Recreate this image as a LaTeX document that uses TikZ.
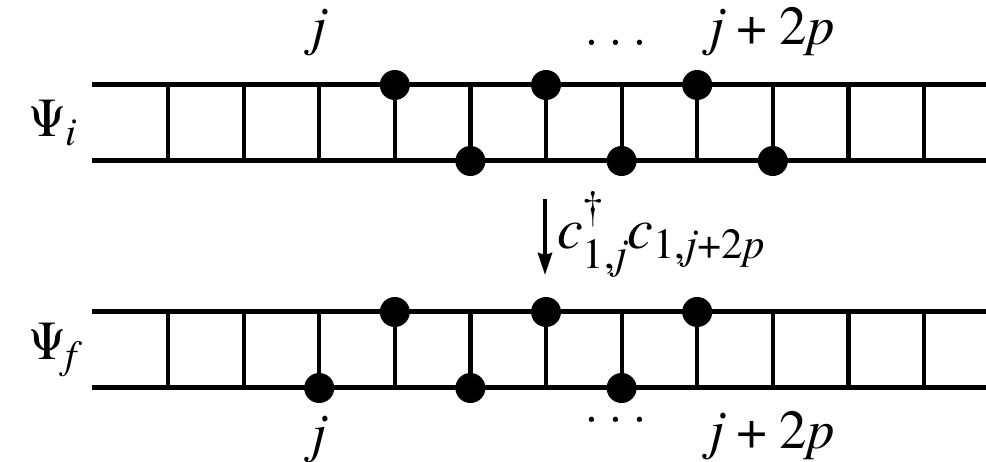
\RequirePackage{fix-cm}
\documentclass[tikz,border=0pt]{standalone}
\usepackage{amsmath}
\usepackage{fontspec}
\setmainfont{texgyretermes}[Extension=.otf, UprightFont=*-regular, ItalicFont=*-italic, BoldFont=*-bold, BoldItalicFont=*-bolditalic]
\usetikzlibrary{arrows.meta}
\DeclareMathSizes{55}{55}{40}{30}
\DeclareMathSizes{58}{58}{43}{32}
\newcommand\iv[1]{\text{\itshape #1}}
\tikzset{
  rail/.style={line width=5pt},
  rung/.style={line width=4.2pt},
  dot/.style={circle, fill=black, inner sep=0pt, minimum size=30pt},
  lab/.style={inner sep=0pt, anchor=base, font=\fontsize{55}{66}\selectfont},
  oplab/.style={inner sep=0pt, anchor=base west, font=\fontsize{58}{70}\selectfont},
  oparrow/.style={line width=4pt, -{Stealth[length=22pt,width=14pt,inset=2pt]}}
}
\begin{document}
\begin{tikzpicture}[x=1pt,y=-1pt]
\useasboundingbox (0,0) rectangle (986,462);
% rails
\coordinate (L1t) at (92,85);   \coordinate (R1t) at (986,85);
\coordinate (L1b) at (92,161);  \coordinate (R1b) at (986,161);
\coordinate (L2t) at (92,312);  \coordinate (R2t) at (986,312);
\coordinate (L2b) at (92,388);  \coordinate (R2b) at (986,388);
\draw[rail] (L1t) -- (R1t);
\draw[rail] (L1b) -- (R1b);
\draw[rail] (L2t) -- (R2t);
\draw[rail] (L2b) -- (R2b);
% rungs
\foreach \k in {0,...,10}{
  \coordinate (t1-\k) at ({168+75.6*\k},85);
  \coordinate (b1-\k) at ({168+75.6*\k},161);
  \coordinate (t2-\k) at ({168+75.6*\k},312);
  \coordinate (b2-\k) at ({168+75.6*\k},388);
  \draw[rung] (t1-\k) -- (b1-\k);
  \draw[rung] (t2-\k) -- (b2-\k);
}
% particles, initial state
\foreach \k in {3,5,7}{ \node[dot] (pt1-\k) at (t1-\k) {}; }
\foreach \k in {4,6,8}{ \node[dot] (pb1-\k) at (b1-\k) {}; }
% particles, final state
\foreach \k in {3,5,7}{ \node[dot] (pt2-\k) at (t2-\k) {}; }
\foreach \k in {2,4,6}{ \node[dot] (pb2-\k) at (b2-\k) {}; }
% state labels
\node[lab, anchor=base east] (psii) at (77,137) {$\text{Ψ}_{\iv{i}}$};
\node[lab, anchor=base east] (psif) at (77,360) {$\text{Ψ}_{\iv{f}}$};
% site labels, top
\node[lab] (jt) at (319,45) {$\iv{j}$};
\node[lab] (dt) at (616,46) {$\ldots$};
\node[lab] (jpt) at (772,45) {$\iv{j}\mathbin{\text{+}}\text{2}\iv{p}$};
% site labels, bottom
\node[lab] (jb) at (319,451) {$\iv{j}$};
\node[lab] (db) at (616,422) {$\ldots$};
\node[lab] (jpb) at (772,448) {$\iv{j}\mathbin{\text{+}}\text{2}\iv{p}$};
% operator arrow
\coordinate (aS) at (545,199);
\coordinate (aE) at (545,275);
\draw[oparrow] (aS) -- (aE);
\node[oplab] (op) at (557,249)
  {$\iv{c}^{\text{\raisebox{7pt}{†}}}_{\text{\raisebox{-5pt}{1,\itshape j}}}\iv{c}_{\text{1,}\iv{j}\text{+2}\iv{p}}$};
\end{tikzpicture}
\end{document}
